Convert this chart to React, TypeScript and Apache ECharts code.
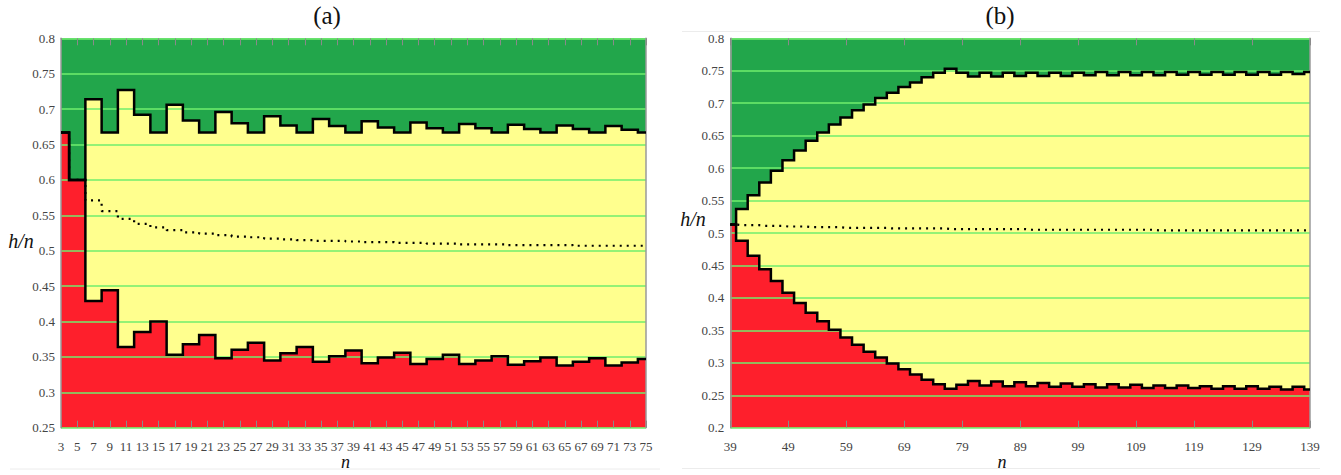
import React, { useEffect, useRef } from "react";
import * as echarts from "echarts";

// ---------- data ----------
const nLeft = [3, 5, 7, 9, 11, 13, 15, 17, 19, 21, 23, 25, 27, 29, 31, 33, 35, 37, 39, 41, 43, 45, 47, 49, 51, 53, 55, 57, 59, 61, 63, 65, 67, 69, 71, 73, 75];
const upperLeft = [0.667, 0.6, 0.714, 0.667, 0.727, 0.692, 0.667, 0.706, 0.684, 0.667, 0.696, 0.68, 0.667, 0.69, 0.677, 0.667, 0.686, 0.676, 0.667, 0.683, 0.674, 0.667, 0.681, 0.673, 0.667, 0.679, 0.673, 0.667, 0.678, 0.672, 0.667, 0.677, 0.672, 0.667, 0.676, 0.671, 0.667];
const lowerLeft = [0.667, 0.6, 0.429, 0.444, 0.364, 0.385, 0.4, 0.353, 0.368, 0.381, 0.348, 0.36, 0.37, 0.345, 0.355, 0.364, 0.343, 0.351, 0.359, 0.341, 0.349, 0.356, 0.34, 0.347, 0.353, 0.34, 0.345, 0.351, 0.339, 0.344, 0.349, 0.338, 0.343, 0.348, 0.338, 0.342, 0.347];
const midLeft = [0.667, 0.6, 0.571, 0.556, 0.545, 0.538, 0.533, 0.529, 0.526, 0.524, 0.522, 0.52, 0.519, 0.517, 0.516, 0.515, 0.514, 0.514, 0.513, 0.512, 0.512, 0.511, 0.511, 0.51, 0.51, 0.509, 0.509, 0.509, 0.508, 0.508, 0.508, 0.508, 0.507, 0.507, 0.507, 0.507, 0.507];

const nRight = [39, 41, 43, 45, 47, 49, 51, 53, 55, 57, 59, 61, 63, 65, 67, 69, 71, 73, 75, 77, 79, 81, 83, 85, 87, 89, 91, 93, 95, 97, 99, 101, 103, 105, 107, 109, 111, 113, 115, 117, 119, 121, 123, 125, 127, 129, 131, 133, 135, 137, 139];
const upperRight = [0.513, 0.537, 0.558, 0.578, 0.596, 0.612, 0.627, 0.642, 0.655, 0.667, 0.678, 0.689, 0.698, 0.708, 0.716, 0.725, 0.732, 0.74, 0.747, 0.753, 0.747, 0.741, 0.747, 0.741, 0.747, 0.742, 0.747, 0.742, 0.747, 0.742, 0.747, 0.743, 0.748, 0.743, 0.748, 0.743, 0.748, 0.743, 0.748, 0.744, 0.748, 0.744, 0.748, 0.744, 0.748, 0.744, 0.748, 0.744, 0.748, 0.745, 0.748];
const lowerRight = [0.513, 0.488, 0.465, 0.444, 0.426, 0.408, 0.392, 0.377, 0.364, 0.351, 0.339, 0.328, 0.317, 0.308, 0.299, 0.29, 0.282, 0.274, 0.267, 0.26, 0.266, 0.272, 0.265, 0.271, 0.264, 0.27, 0.264, 0.269, 0.263, 0.268, 0.263, 0.267, 0.262, 0.267, 0.262, 0.266, 0.261, 0.265, 0.261, 0.265, 0.261, 0.264, 0.26, 0.264, 0.26, 0.264, 0.26, 0.263, 0.259, 0.263, 0.259];
const midRight = [0.513, 0.512, 0.512, 0.511, 0.511, 0.51, 0.51, 0.509, 0.509, 0.509, 0.508, 0.508, 0.508, 0.508, 0.507, 0.507, 0.507, 0.507, 0.507, 0.506, 0.506, 0.506, 0.506, 0.506, 0.506, 0.506, 0.505, 0.505, 0.505, 0.505, 0.505, 0.505, 0.505, 0.505, 0.505, 0.505, 0.505, 0.504, 0.504, 0.504, 0.504, 0.504, 0.504, 0.504, 0.504, 0.504, 0.504, 0.504, 0.504, 0.504, 0.504];

const titles = ["(a)", "(b)"];
const yName = "h/n";
const xName = "n";

// ---------- styles ----------
const GREEN = "#22a64b";
const YELLOW = "#ffff8e";
const RED = "#fe1f2c";
const GRIDLINE = "#70ee6c";
const SERIF = "Liberation Serif, serif";

function pairs(xs: number[], ys: number[]) {
  return xs.map((x, i) => [x, ys[i]]);
}

function areaSeries(gi: number, data: number[][], color: string) {
  return {
    type: "line",
    xAxisIndex: gi * 2,
    yAxisIndex: gi * 2,
    data,
    step: "middle",
    showSymbol: false,
    silent: true,
    z: 1,
    lineStyle: { width: 0, opacity: 0 },
    areaStyle: { color, opacity: 1, origin: "start" },
  };
}

function blackLine(gi: number, data: number[][]) {
  return {
    type: "line",
    xAxisIndex: gi * 2,
    yAxisIndex: gi * 2,
    data,
    step: "middle",
    showSymbol: false,
    silent: true,
    z: 6,
    lineStyle: { color: "#000", width: 2.5, join: "miter" },
  };
}

function dottedLine(gi: number, data: number[][]) {
  return {
    type: "line",
    xAxisIndex: gi * 2,
    yAxisIndex: gi * 2,
    data,
    step: "middle",
    showSymbol: false,
    silent: true,
    z: 5,
    lineStyle: { color: "#000", width: 2.2, type: [2, 5], cap: "butt" },
  };
}

function xAxes(gi: number, min: number, max: number, interval: number) {
  const tick = { show: true, inside: true, length: 7, lineStyle: { color: "#8a8a8a", width: 1 } };
  return [
    {
      type: "value",
      gridIndex: gi,
      position: "bottom",
      min,
      max,
      interval,
      z: 3,
      axisLine: { show: false },
      axisTick: tick,
      splitLine: { show: false },
      axisLabel: { color: "#444", fontFamily: SERIF, fontSize: 13, margin: 12 },
    },
    {
      type: "value",
      gridIndex: gi,
      position: "top",
      min,
      max,
      interval,
      z: 3,
      axisLine: { show: false },
      axisTick: tick,
      splitLine: { show: false },
      axisLabel: { show: false },
    },
  ];
}

function yAxes(gi: number, min: number, max: number) {
  return [
    {
      type: "value",
      gridIndex: gi,
      position: "left",
      min,
      max,
      interval: 0.05,
      z: 3,
      axisLine: { show: true, lineStyle: { color: "#9a9a9a", width: 1.5 } },
      axisTick: { show: false },
      splitLine: { show: true, lineStyle: { color: GRIDLINE, width: 1.6 } },
      axisLabel: { color: "#444", fontFamily: SERIF, fontSize: 13, margin: 6 },
    },
    {
      type: "value",
      gridIndex: gi,
      position: "right",
      min,
      max,
      interval: 0.05,
      z: 3,
      axisLine: { show: true, lineStyle: { color: "#9a9a9a", width: 1.5 } },
      axisTick: { show: false },
      splitLine: { show: false },
      axisLabel: { show: false },
    },
  ];
}

function textEl(text: string, x: number, y: number, size: number, italic: boolean, color = "#111") {
  return {
    type: "text",
    x,
    y,
    silent: true,
    style: {
      text,
      fill: color,
      fontFamily: SERIF,
      fontSize: size,
      fontStyle: italic ? "italic" : "normal",
      align: "center",
      verticalAlign: "middle",
    },
  };
}

export default function App() {
  const ref = useRef<HTMLDivElement>(null);

  useEffect(() => {
    if (!ref.current) return;
    const chart = echarts.init(ref.current, undefined, { renderer: "svg" });
    const L = pairs(nLeft, upperLeft);
    const Ll = pairs(nLeft, lowerLeft);
    const Lm = pairs(nLeft, midLeft);
    const R = pairs(nRight, upperRight);
    const Rl = pairs(nRight, lowerRight);
    const Rm = pairs(nRight, midRight);

    chart.setOption({
      animation: false,
      backgroundColor: "#fff",
      grid: [
        { left: 61, top: 38.3, width: 585, height: 389.4, show: true, backgroundColor: GREEN, borderWidth: 0 },
        { left: 730.3, top: 38.3, width: 579.7, height: 389.4, show: true, backgroundColor: GREEN, borderWidth: 0 },
      ],
      xAxis: [...xAxes(0, 3, 75, 2), ...xAxes(1, 39, 139, 10)],
      yAxis: [...yAxes(0, 0.25, 0.8), ...yAxes(1, 0.2, 0.8)],
      series: [
        areaSeries(0, L, YELLOW),
        areaSeries(0, Ll, RED),
        dottedLine(0, Lm),
        blackLine(0, L),
        blackLine(0, Ll),
        areaSeries(1, R, YELLOW),
        areaSeries(1, Rl, RED),
        dottedLine(1, Rm),
        blackLine(1, R),
        blackLine(1, Rl),
      ],
      graphic: [
        { type: "line", silent: true, shape: { x1: 10, y1: 469, x2: 660, y2: 469 }, style: { stroke: "#ececec", lineWidth: 1 } },
        { type: "line", silent: true, shape: { x1: 682, y1: 31.5, x2: 1320, y2: 31.5 }, style: { stroke: "#ececec", lineWidth: 1 } },
        { type: "line", silent: true, shape: { x1: 682, y1: 468.5, x2: 1320, y2: 468.5 }, style: { stroke: "#ececec", lineWidth: 1 } },
        textEl(titles[0], 327, 15, 25, false),
        textEl(titles[1], 1000, 15, 25, false),
        textEl(yName, 21, 241, 20, true),
        textEl(yName, 693, 219, 20, true),
        textEl(xName, 345.5, 462, 18, true),
        textEl(xName, 1002, 462, 18, true),
      ],
    });
    return () => chart.dispose();
  }, []);

  return (
    <div
      ref={ref}
      style={{ position: "absolute", left: 0, top: 0, width: 1341, height: 475 }}
    />
  );
}
